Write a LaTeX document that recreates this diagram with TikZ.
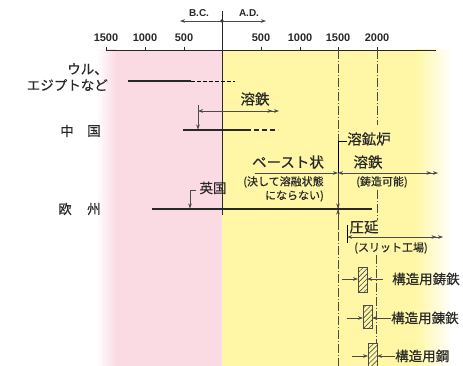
\documentclass[tikz,border=0pt]{standalone}
\usepackage{fontspec}
\setmainfont{Liberation Sans}
\newfontfamily\jp[FakeBold=0.4]{Noto Sans CJK JP}
\usetikzlibrary{arrows.meta,patterns.meta}
\definecolor{pinkc}{RGB}{250,219,228}
\definecolor{yelc}{RGB}{255,247,165}
\definecolor{ink}{RGB}{40,40,40}
\definecolor{thin}{RGB}{75,75,75}
\tikzset{
  ah/.tip={Stealth[length=5pt,width=3.6pt,inset=1.6pt]},
  one/.style={draw=thin,line width=0.6pt,-{ah}},
  two/.style={draw=thin,line width=0.6pt,{ah}-{ah[sep=1.5pt]ah}},
  dashdot/.style={draw=thin,line width=0.6pt,dash pattern=on 9pt off 2pt on 1pt off 2pt},
  num/.style={font=\fontsize{11}{11}\selectfont\bfseries,text=ink,inner sep=0pt},
  bcad/.style={font=\fontsize{10}{10}\selectfont\bfseries,text=ink,inner sep=0pt},
  lab/.style={font=\jp\fontsize{13.5}{14}\selectfont,inner sep=0pt,text=ink},
  big/.style={font=\jp\fontsize{14.5}{15}\selectfont,inner sep=0pt,text=ink},
  small/.style={font=\jp\fontsize{11}{12}\selectfont,inner sep=0pt,text=ink},
  hatchbox/.style={draw=thin,line width=0.6pt,fill=yelc,postaction={pattern={Lines[angle=45,distance=3.6pt,line width=0.6pt]},pattern color=thin}},
}
\begin{document}
\begin{tikzpicture}[x=1pt,y=-1pt]
\useasboundingbox (0,0) rectangle (463,366);
% backgrounds
\shade[left color=white,right color=pinkc] (96,50) rectangle (116,366);
\fill[pinkc] (115.5,50) rectangle (222,366);
\fill[yelc] (222,50) rectangle (416,366);
\shade[left color=yelc,right color=white] (415.5,50) rectangle (452,366);
% axis
\coordinate (axL) at (106,50); \coordinate (axR) at (436,50);
\draw[ink,line width=0.8pt] (axL) -- (axR);
\foreach \x/\t/\n in {106/1500/a,145/1000/b,184/500/c,261/500/d,300/1000/e,338/1500/f,377/2000/g}{
  \draw[ink,line width=0.6pt] (\x,47) -- (\x,50);
  \node[num] (n\n) at (\x,38) {\t};
}
% main vertical line
\coordinate (vtop) at (222,11); \coordinate (vbot) at (222,215);
\draw[ink,line width=0.7pt] (vtop) -- (vbot);
\coordinate (dot) at (222,21);
\fill[ink] (dot) circle (1.8);
\coordinate (bcend) at (180,21); \coordinate (adend) at (266,21);
\draw[one] (dot) -- (bcend);
\draw[one] (dot) -- (adend);
\node[bcad] (bc) at (199,13) {B.C.};
\node[bcad] (ad) at (249,13) {A.D.};
% dash-dot lines
\coordinate (l15a) at (338,50); \coordinate (l15b) at (338,366);
\draw[dashdot] (l15a) -- (l15b);
\coordinate (l20a) at (377,50); \coordinate (l20b) at (377,125);
\draw[dashdot] (l20a) -- (l20b);
\coordinate (l20c) at (377,190); \coordinate (l20d) at (377,220);
\draw[dashdot] (l20c) -- (l20d);
\coordinate (l20e) at (376.5,255); \coordinate (l20f) at (376.5,366);
\draw[dashdot] (l20e) -- (l20f);
% Ur / Egypt
\node[lab,anchor=east] (ur) at (108,69) {ウル、};
\node[lab,anchor=east] (eg) at (108,85) {エジプトなど};
\coordinate (u1) at (128,81); \coordinate (u2) at (191,81); \coordinate (u3) at (235,81);
\draw[ink,line width=2.2pt] (u1) -- (u2);
\draw[thin,line width=0.7pt,dash pattern=on 4pt off 2pt] (u2) -- (u3);
% China
\node[lab] (zh1) at (67,131) {中};
\node[lab] (zh2) at (94,131) {国};
\coordinate (c1) at (183,130); \coordinate (c2) at (246,130); \coordinate (c3) at (278,130);
\draw[ink,line width=1.3pt] (c1) -- (c2);
\draw[ink,line width=1.3pt,dash pattern=on 5pt off 3pt] (c2) -- (c3);
\node[big] (yt1) at (255,99) {溶鉄};
\coordinate (ct) at (198,105); \coordinate (cb) at (198,129.5);
\draw[one] (ct) -- (cb);
\coordinate (ca) at (198,111); \coordinate (cz) at (279,111);
\draw[two] (ca) -- (cz);
% blast furnace
\node[big] (ro) at (369,139) {溶鉱炉};
\coordinate (r1) at (338,141); \coordinate (r2) at (347,141);
\draw[thin,line width=0.6pt] (r1) -- (r2);
\node[big] (paste) at (288,162) {ペースト状};
\node[big] (yt2) at (368,162) {溶鉄};
\node[small] (ps1) at (283.5,182) {(決して溶融状態};
\node[small,anchor=east] (ps2) at (324,196) {にならない)};
\node[small] (cast) at (382,182) {(鋳造可能)};
\coordinate (p1) at (255,173); \coordinate (pm) at (338,173); \coordinate (p2) at (438,173);
\draw[one] (p1) -- (pm);
\draw[two] (pm) -- (p2);
% Europe
\node[lab] (eu1) at (65,209) {欧};
\node[lab] (eu2) at (94,209) {州};
\coordinate (e1) at (152,209); \coordinate (e2) at (372,209);
\draw[ink,line width=1.3pt] (e1) -- (e2);
\node[lab] (uk) at (213,188) {英国};
\coordinate (k1) at (196,190); \coordinate (k2) at (190,190); \coordinate (k3) at (190,208.5);
\draw[one] (k1) -- (k2) -- (k3);
\coordinate (m0) at (338,141);
\coordinate (m1) at (338,173); \coordinate (m2) at (338,208.5);
\draw[thin,line width=0.6pt] (m0) -- (m1);
\draw[one] (m1) -- (m2);
\coordinate (m3) at (338,230); \coordinate (m4) at (338,209.5);
\draw[one] (m3) -- (m4);
% rolling
\node[big] (roll) at (364,227) {圧延};
\node[small] (slit) at (391,248) {(スリット工場)};
\coordinate (s1) at (347,225); \coordinate (s2) at (347,243);
\draw[thin,line width=0.6pt] (s1) -- (s2);
\coordinate (sa) at (347,237); \coordinate (sz) at (443,237);
\draw[two] (sa) -- (sz);
% structural blocks
\draw[hatchbox] (358,267) rectangle (367,292);
\draw[hatchbox] (363,305) rectangle (372,328);
\draw[hatchbox] (368,343) rectangle (377,372);
\coordinate (b1l) at (342,279); \coordinate (b1a) at (358,279);
\coordinate (b1r) at (383,279); \coordinate (b1b) at (367,279);
\draw[one] (b1l) -- (b1a); \draw[one] (b1r) -- (b1b);
\node[lab,anchor=west] (t1) at (392,279) {構造用鋳鉄};
\coordinate (b2l) at (347,318); \coordinate (b2a) at (363,318); \coordinate (b2b) at (372,318);
\draw[one] (b2l) -- (b2a);
\node[lab,anchor=west] (t2) at (391,318) {構造用錬鉄};
\draw[one] (t2.west) -- (b2b);
\coordinate (b3l) at (352,356); \coordinate (b3a) at (368,356); \coordinate (b3b) at (377,356);
\draw[one] (b3l) -- (b3a);
\node[lab,anchor=west] (t3) at (395,356) {構造用鋼};
\draw[one] (t3.west) -- (b3b);
\end{tikzpicture}
\end{document}
